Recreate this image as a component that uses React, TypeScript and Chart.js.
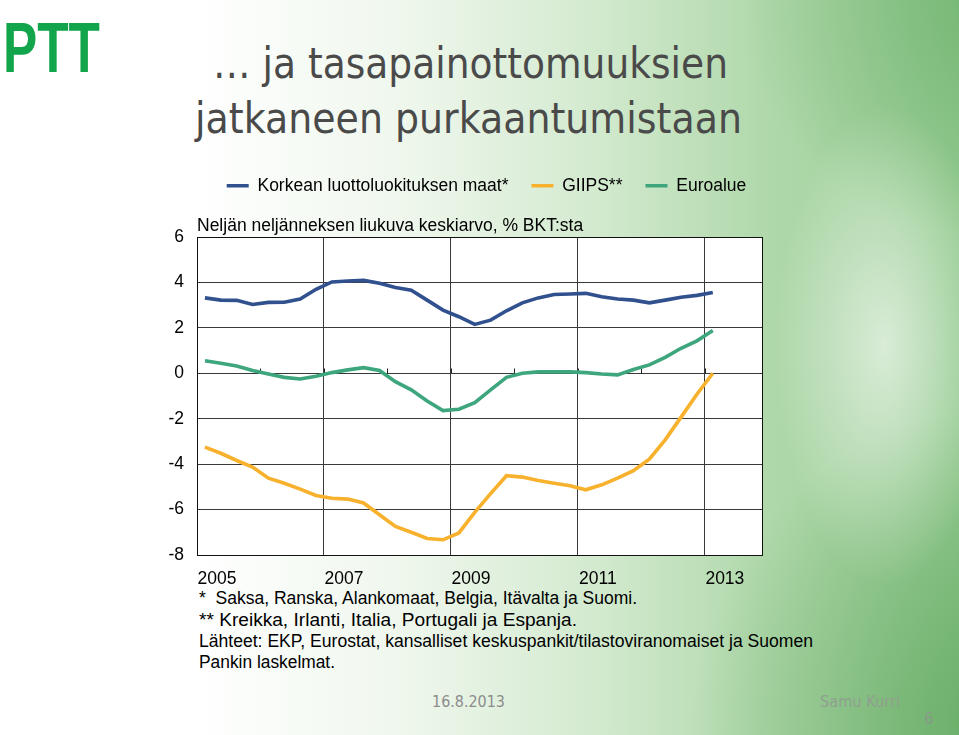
import React, { useEffect, useRef } from 'react';
import { Chart, registerables } from 'chart.js';

Chart.register(...registerables);

// Quarterly categories 2005Q1 .. 2013Q1
const quarters = [
  '2005Q1', '2005Q2', '2005Q3', '2005Q4',
  '2006Q1', '2006Q2', '2006Q3', '2006Q4',
  '2007Q1', '2007Q2', '2007Q3', '2007Q4',
  '2008Q1', '2008Q2', '2008Q3', '2008Q4',
  '2009Q1', '2009Q2', '2009Q3', '2009Q4',
  '2010Q1', '2010Q2', '2010Q3', '2010Q4',
  '2011Q1', '2011Q2', '2011Q3', '2011Q4',
  '2012Q1', '2012Q2', '2012Q3', '2012Q4',
  '2013Q1',
];

const xTickYears = ['2005', '2007', '2009', '2011', '2013'];
const minorTickYears = ['2005', '2006', '2007', '2008', '2009', '2010', '2011', '2012', '2013'];
const yTicks = [-8, -6, -4, -2, 0, 2, 4, 6];

const seriesNames = ['Korkean luottoluokituksen maat*', 'GIIPS**', 'Euroalue'];
const seriesColors = ['#31508e', '#f7b12d', '#3ea67c'];

const korkea = [
  3.32, 3.22, 3.21, 3.03, 3.12, 3.13, 3.27, 3.70,
  4.02, 4.06, 4.09, 3.96, 3.78, 3.66, 3.22, 2.78,
  2.49, 2.15, 2.34, 2.75, 3.10, 3.32, 3.47, 3.49,
  3.52, 3.37, 3.27, 3.22, 3.10, 3.22, 3.35, 3.43,
  3.56,
];
const giips = [
  -3.25, -3.52, -3.84, -4.13, -4.62, -4.84, -5.10, -5.38,
  -5.50, -5.54, -5.71, -6.23, -6.74, -7.00, -7.27, -7.33,
  -7.03, -6.12, -5.30, -4.51, -4.57, -4.72, -4.84, -4.95,
  -5.13, -4.91, -4.62, -4.29, -3.78, -2.93, -1.93, -0.92,
  0.0,
];
const euroalue = [
  0.55, 0.44, 0.32, 0.12, -0.03, -0.18, -0.25, -0.13,
  0.03, 0.15, 0.25, 0.12, -0.37, -0.73, -1.22, -1.64,
  -1.58, -1.29, -0.73, -0.18, 0.0, 0.06, 0.06, 0.06,
  0.03, -0.03, -0.07, 0.17, 0.37, 0.70, 1.10, 1.43,
  1.88,
];

const subtitle = 'Neljän neljänneksen liukuva keskiarvo, % BKT:sta';
const firstYear = 2005;
const xMax = 35.6; // axis extends a little beyond 2013Q4 start, in quarters

const quarterPos = (label: string) => {
  const y = Number(label.slice(0, 4));
  const q = Number(label.slice(5));
  return (y - firstYear) * 4 + (q - 1) + 0.5;
};
const yearPos = (year: string) => (Number(year) - firstYear) * 4;

const FONT = "'Liberation Sans', Arial, sans-serif";

const plotBoxPlugin = {
  id: 'plotBox',
  beforeDraw(chart: any) {
    const { ctx, chartArea } = chart;
    ctx.save();
    ctx.fillStyle = '#ffffff';
    ctx.fillRect(chartArea.left, chartArea.top, chartArea.right - chartArea.left, chartArea.bottom - chartArea.top);
    ctx.restore();
  },
  beforeDatasetsDraw(chart: any) {
    const { ctx, chartArea, scales } = chart;
    ctx.save();
    // minor yearly tick marks on the zero line
    const y0 = Math.round(scales.y.getPixelForValue(0)) + 0.5;
    ctx.strokeStyle = '#222';
    ctx.lineWidth = 1;
    ctx.beginPath();
    minorTickYears.forEach((yr) => {
      const x = Math.round(scales.x.getPixelForValue(yearPos(yr))) + 0.5;
      ctx.moveTo(x, y0);
      ctx.lineTo(x, y0 - 5);
    });
    ctx.stroke();
    // plot border
    ctx.strokeStyle = '#111';
    ctx.strokeRect(
      Math.round(chartArea.left) + 0.5,
      Math.round(chartArea.top) + 0.5,
      Math.round(chartArea.right - chartArea.left),
      Math.round(chartArea.bottom - chartArea.top)
    );
    ctx.restore();
  },
};

function LineChart() {
  const ref = useRef<HTMLCanvasElement | null>(null);
  useEffect(() => {
    if (!ref.current) return;
    const all = [korkea, giips, euroalue];
    const chart = new Chart(ref.current, {
      type: 'line',
      data: {
        datasets: all.map((vals, i) => ({
          label: seriesNames[i],
          data: vals.map((v, k) => ({ x: quarterPos(quarters[k]), y: v })),
          borderColor: seriesColors[i],
          backgroundColor: seriesColors[i],
          borderWidth: 3.6,
          pointRadius: 0,
          tension: 0,
          fill: false,
          yAxisID: 'y',
        })),
      },
      options: {
        responsive: false,
        animation: false,
        events: [],
        layout: { padding: { left: 0, right: 0, top: 0, bottom: 0 } },
        plugins: {
          legend: {
            display: true,
            position: 'top',
            weight: 3000,
            labels: {
              usePointStyle: true,
              pointStyle: 'line',
              pointStyleWidth: 22,
              padding: 23,
              color: '#000',
              font: { family: FONT, size: 17.5 },
            },
          },
          title: {
            display: true,
            text: subtitle,
            position: 'top',
            align: 'start',
            fullSize: false,
            weight: 2000,
            color: '#000',
            font: { family: FONT, size: 17.5, weight: 'normal' },
            padding: { top: 11, bottom: 0.5 },
          },
          tooltip: { enabled: false },
        },
        scales: {
          x: {
            type: 'linear',
            min: 0,
            max: xMax,
            afterBuildTicks: (scale: any) => {
              scale.ticks = xTickYears.map((y) => ({ value: yearPos(y) }));
            },
            afterFit: (scale: any) => {
              scale.height = 45;
            },
            ticks: {
              callback: (v: any) => String(firstYear + Number(v) / 4),
              color: '#000',
              font: { family: FONT, size: 17.5 },
              labelOffset: 20,
              padding: 14,
              maxRotation: 0,
              autoSkip: false,
            },
            grid: { color: '#3a3a3a', lineWidth: 1, drawTicks: false },
            border: { display: true, color: '#111' },
          },
          y: {
            type: 'linear',
            position: 'left',
            min: -8,
            max: 6,
            afterBuildTicks: (scale: any) => {
              scale.ticks = yTicks.map((v) => ({ value: v }));
            },
            afterFit: (scale: any) => {
              scale.width = 77;
            },
            ticks: {
              color: '#000',
              font: { family: FONT, size: 17.5 },
              padding: 13,
            },
            grid: { color: '#3a3a3a', lineWidth: 1, drawTicks: false },
            border: { display: true, color: '#111' },
          },
          yRight: {
            type: 'linear',
            position: 'right',
            display: true,
            min: -8,
            max: 6,
            afterFit: (scale: any) => {
              scale.width = 91;
            },
            ticks: { display: false },
            grid: { display: false, drawTicks: false },
            border: { display: false },
          },
        },
      },
      plugins: [plotBoxPlugin],
    } as any);
    return () => chart.destroy();
  }, []);
  return (
    <canvas
      ref={ref}
      width={733}
      height={446}
      style={{ position: 'absolute', left: 120, top: 154, width: 733, height: 446 }}
    />
  );
}

const footnotes = [
  { text: '*  Saksa, Ranska, Alankomaat, Belgia, Itävalta ja Suomi.', y: 604, w: 438 },
  { text: '** Kreikka, Irlanti, Italia, Portugali ja Espanja.', y: 625.5, w: 378 },
  { text: 'Lähteet: EKP, Eurostat, kansalliset keskuspankit/tilastoviranomaiset ja Suomen', y: 647, w: 614 },
  { text: 'Pankin laskelmat.', y: 668, w: 136 },
];

export default function App() {
  const bg = [
    'radial-gradient(ellipse 110px 240px at 885px 345px, rgba(255,255,255,0.6), rgba(255,255,255,0) 100%)',
    'radial-gradient(ellipse 320px 330px at 1010px 735px, rgba(70,150,70,0.6), rgba(70,150,70,0) 100%)',
    'radial-gradient(ellipse 260px 240px at 1000px 0px, rgba(90,165,90,0.55), rgba(90,165,90,0) 100%)',
    'linear-gradient(90deg, #ffffff 0%, #ffffff 20%, #eff7ed 42%, #d3eacf 62%, #b0d8ab 80%, #95cb91 100%)',
  ].join(', ');
  return (
    <div
      style={{
        position: 'absolute',
        left: 0,
        top: 0,
        width: 959,
        height: 735,
        overflow: 'hidden',
        background: bg,
      }}
    >
      <svg width={959} height={735} style={{ position: 'absolute', left: 0, top: 0 }}>
        <text x={3} y={72} fill="#13a54b" fontFamily={FONT} fontWeight="bold" fontSize={70} textLength={97} lengthAdjust="spacingAndGlyphs">
          PTT
        </text>
        <text x={213} y={78} fill="#4a4a4a" fontFamily="'DejaVu Sans', sans-serif" fontSize={43} textLength={515} lengthAdjust="spacingAndGlyphs">
          … ja tasapainottomuuksien
        </text>
        <text x={195} y={133} fill="#4a4a4a" fontFamily="'DejaVu Sans', sans-serif" fontSize={43} textLength={547} lengthAdjust="spacingAndGlyphs">
          jatkaneen purkaantumistaan
        </text>
        {footnotes.map((f, i) => (
          <text key={i} x={199} y={f.y} fill="#000" fontFamily={FONT} fontSize={17.5} textLength={f.w} lengthAdjust="spacingAndGlyphs" style={{ whiteSpace: 'pre' }}>
            {f.text}
          </text>
        ))}
        <text x={432} y={707} fill="#8c8c8c" fontFamily="'DejaVu Sans', sans-serif" fontSize={15} textLength={73} lengthAdjust="spacingAndGlyphs">
          16.8.2013
        </text>
        <text x={820} y={707} fill="#8fa08f" fontFamily="'DejaVu Sans', sans-serif" fontSize={15} textLength={80} lengthAdjust="spacingAndGlyphs">
          Samu Kurri
        </text>
        <text x={924} y={724} fill="#879a87" fontFamily="'DejaVu Sans', sans-serif" fontSize={15}>
          6
        </text>
      </svg>
      <LineChart />
    </div>
  );
}
